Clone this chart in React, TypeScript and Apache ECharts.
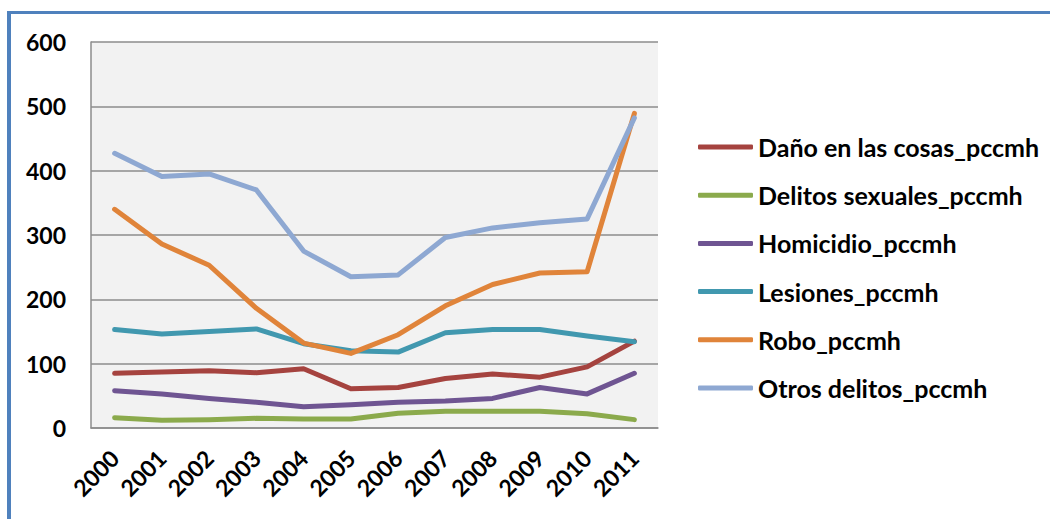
import React, { useEffect, useRef } from "react";
import * as echarts from "echarts";

const years = ["2000", "2001", "2002", "2003", "2004", "2005", "2006", "2007", "2008", "2009", "2010", "2011"];
const dano = [85, 87, 89, 86, 92, 61, 63, 77, 84, 79, 95, 135];
const sexuales = [16, 12, 13, 15, 14, 14, 23, 26, 26, 26, 22, 13];
const homicidio = [58, 53, 46, 40, 33, 36, 40, 42, 46, 63, 53, 85];
const lesiones = [153, 146, 150, 154, 131, 120, 118, 148, 153, 153, 143, 134];
const robo = [340, 286, 253, 186, 132, 116, 145, 190, 223, 241, 243, 489];
const otros = [427, 391, 395, 370, 275, 235, 238, 296, 311, 319, 325, 482];
const yTicks = [0, 100, 200, 300, 400, 500, 600];

const seriesDefs = [
  { name: "Daño en las cosas_pccmh", data: dano, color: "#A5433F" },
  { name: "Delitos sexuales_pccmh", data: sexuales, color: "#8BAA4C" },
  { name: "Homicidio_pccmh", data: homicidio, color: "#6F5592" },
  { name: "Lesiones_pccmh", data: lesiones, color: "#4198AF" },
  { name: "Robo_pccmh", data: robo, color: "#E0843A" },
  { name: "Otros delitos_pccmh", data: otros, color: "#8EA8D2" },
];

export default function App() {
  const ref = useRef<HTMLDivElement>(null);
  useEffect(() => {
    document.body.style.margin = "0";
    const chart = echarts.init(ref.current!, null, { renderer: "svg" });
    const font = "Lato, 'Open Sans', sans-serif";
    chart.setOption({
      animation: false,
      backgroundColor: "#FFFFFF",
      textStyle: { fontFamily: font },
      grid: {
        left: 91,
        right: 392,
        top: 42,
        bottom: 91,
        show: true,
        backgroundColor: "#F2F2F2",
        borderWidth: 0,
      },
      graphic: [
        { type: "rect", shape: { x: 7, y: 11, width: 1043, height: 3 }, style: { fill: "#4F81BD" } },
        { type: "rect", shape: { x: 7, y: 11, width: 4, height: 508 }, style: { fill: "#4F81BD" } },
      ],
      legend: {
        orient: "vertical",
        left: 698,
        top: 134,
        padding: 0,
        icon: "roundRect",
        itemWidth: 55,
        itemHeight: 5,
        itemGap: 22.2,
        data: seriesDefs.map((s) => s.name),
        textStyle: {
          fontFamily: font,
          fontWeight: "bold",
          fontSize: 25,
          color: "#000000",
          lineHeight: 26,
          padding: [0, 0, 0, 0],
        },
      },
      xAxis: {
        type: "category",
        data: years,
        boundaryGap: true,
        axisLine: { show: true, lineStyle: { color: "#8C8C8C", width: 1.5 } },
        axisTick: { show: false },
        axisLabel: {
          rotate: 45,
          margin: 26,
          interval: 0,
          fontFamily: font,
          fontWeight: "bold",
          fontSize: 23,
          color: "#000000",
        },
      },
      yAxis: {
        type: "value",
        min: yTicks[0],
        max: yTicks[yTicks.length - 1],
        interval: 100,
        axisLine: { show: true, lineStyle: { color: "#8C8C8C", width: 1.5 } },
        axisTick: { show: false },
        splitLine: { show: true, lineStyle: { color: "#8C8C8C", width: 1.5 } },
        axisLabel: {
          margin: 25,
          fontFamily: font,
          fontWeight: "bold",
          fontSize: 23,
          color: "#000000",
        },
      },
      series: seriesDefs.map((s) => ({
        name: s.name,
        type: "line",
        data: s.data,
        symbol: "none",
        itemStyle: { color: s.color },
        lineStyle: { color: s.color, width: 5, cap: "round", join: "round" },
      })),
    });
    return () => chart.dispose();
  }, []);
  return <div ref={ref} style={{ width: 1050, height: 519 }} />;
}
